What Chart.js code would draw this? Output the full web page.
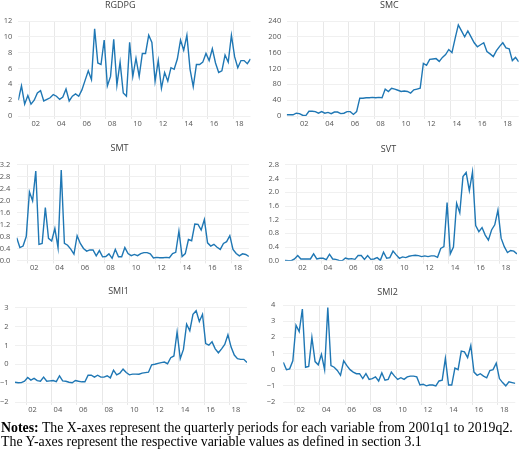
<!DOCTYPE html>
<html><head><meta charset="utf-8">
<script src="https://cdn.jsdelivr.net/npm/chart.js@4"></script>
<style>
html,body{margin:0;padding:0;width:520px;height:464px;overflow:hidden;background:#fff;}
body{position:relative}
canvas{position:absolute}
#notes{position:absolute;left:1px;top:421px;font-family:"Liberation Serif","Times New Roman",serif;font-size:13.85px;line-height:14px;color:#000;white-space:nowrap}
</style></head><body>
<canvas id="c1"></canvas><canvas id="c2"></canvas>
<canvas id="c3"></canvas><canvas id="c4"></canvas>
<canvas id="c5"></canvas><canvas id="c6"></canvas>
<div id="notes"><b>Notes:</b> The X-axes represent the quarterly periods for each variable from 2001q1 to 2019q2.<br>The Y-axes represent the respective variable values as defined in section 3.1</div>
<script>
const quarters = [
 '2001q1','2001q2','2001q3','2001q4','2002q1','2002q2','2002q3','2002q4',
 '2003q1','2003q2','2003q3','2003q4','2004q1','2004q2','2004q3','2004q4',
 '2005q1','2005q2','2005q3','2005q4','2006q1','2006q2','2006q3','2006q4',
 '2007q1','2007q2','2007q3','2007q4','2008q1','2008q2','2008q3','2008q4',
 '2009q1','2009q2','2009q3','2009q4','2010q1','2010q2','2010q3','2010q4',
 '2011q1','2011q2','2011q3','2011q4','2012q1','2012q2','2012q3','2012q4',
 '2013q1','2013q2','2013q3','2013q4','2014q1','2014q2','2014q3','2014q4',
 '2015q1','2015q2','2015q3','2015q4','2016q1','2016q2','2016q3','2016q4',
 '2017q1','2017q2','2017q3','2017q4','2018q1','2018q2','2018q3','2018q4',
 '2019q1','2019q2'];
const yearTicks = ['02','04','06','08','10','12','14','16','18'];

const rgdpg = [2.0,3.8,1.5,2.6,1.5,2.0,2.9,3.2,1.9,2.1,2.3,2.7,2.5,2.1,2.4,3.4,1.9,2.5,2.8,2.5,
 3.3,4.5,5.7,4.6,11.0,6.7,6.5,9.6,3.8,5.0,9.7,3.9,6.8,2.9,2.5,9.3,5.0,7.3,5.0,7.9,
 7.9,10.2,9.3,4.4,7.0,3.5,5.5,4.4,6.1,5.9,7.2,9.6,8.3,10.2,5.9,3.7,6.5,6.5,6.8,7.9,
 7.0,8.5,6.7,5.5,5.7,7.7,6.8,10.2,7.5,6.1,7.0,7.0,6.6,7.2];
const smc = [3,3,3,7,6,2,1,12,12,11,7,11,7,9,6,10,10,6,7,11,
 11,4,11,45,45,46,46,47,46,47,46,68,62,70,68,65,62,63,62,58,
 66,68,70,133,128,143,144,145,138,148,155,168,160,196,230,215,200,215,200,185,
 175,180,185,163,157,150,165,176,185,172,170,140,148,137];
const smt = [0.76,0.43,0.48,0.8,2.3,2.0,3.0,0.54,0.57,1.77,0.74,0.65,1.07,0.42,3.03,0.57,0.51,0.38,0.21,0.83,
 0.57,0.40,0.31,0.35,0.35,0.15,0.33,0.12,0.13,0.22,0.07,0.37,0.12,0.12,0.43,0.23,0.16,0.2,0.16,0.23,
 0.26,0.26,0.22,0.08,0.1,0.09,0.09,0.1,0.09,0.23,0.27,0.98,0.13,0.23,0.7,0.66,1.22,1.21,1.02,1.37,
 0.59,0.48,0.54,0.44,0.37,0.57,0.63,0.83,0.37,0.23,0.15,0.22,0.2,0.13];
const svt = [0.01,0,0,0.05,0.15,0.05,0.05,0.05,0.05,0.2,0.05,0.07,0.07,0.03,0.19,0.05,0.04,0.01,0,0.08,
 0.05,0.06,0.04,0.15,0.15,0.04,0.15,0.04,0.05,0.09,0.01,0.25,0.07,0.09,0.28,0.17,0.07,0.11,0.09,0.13,
 0.15,0.16,0.15,0.12,0.14,0.12,0.14,0.14,0.1,0.36,0.41,1.7,0.2,0.4,1.68,1.4,2.46,2.58,2.05,2.6,
 1.03,0.85,0.97,0.75,0.6,0.9,1.05,1.48,0.66,0.41,0.24,0.3,0.28,0.2];
const smi1 = [-0.95,-0.98,-0.97,-0.9,-0.7,-0.84,-0.75,-0.87,-0.9,-0.68,-0.9,-0.88,-0.86,-0.92,-0.61,-0.88,-0.9,-0.95,-0.98,-0.86,
 -0.9,-0.93,-0.93,-0.58,-0.58,-0.68,-0.58,-0.68,-0.68,-0.61,-0.72,-0.31,-0.56,-0.47,-0.26,-0.44,-0.56,-0.52,-0.52,-0.53,
 -0.47,-0.44,-0.42,-0.03,0.0,0.05,0.09,0.12,0.03,0.35,0.44,1.71,0.3,0.79,2.13,1.78,2.65,2.84,2.27,2.65,
 1.1,1.01,1.19,0.82,0.61,0.82,1.05,1.57,0.91,0.49,0.3,0.26,0.26,0.09];
const smi2 = [0.45,0.0,0.05,0.55,2.75,2.35,3.75,0.15,0.2,2.0,0.5,0.3,0.95,0.0,3.85,0.25,0.15,-0.05,-0.35,0.55,
 0.25,0.0,-0.15,-0.25,-0.25,-0.55,-0.25,-0.6,-0.55,-0.45,-0.7,-0.2,-0.65,-0.6,-0.15,-0.4,-0.6,-0.5,-0.6,-0.45,
 -0.4,-0.4,-0.45,-0.95,-0.9,-1.0,-0.95,-0.95,-1.0,-0.7,-0.65,0.7,-0.95,-0.95,0.1,0.0,1.15,1.1,0.75,1.5,
 -0.15,-0.35,-0.25,-0.4,-0.5,-0.05,0.0,0.4,-0.55,-0.8,-1.0,-0.75,-0.8,-0.85];

const rgdpgTicks = [0,2,4,6,8,10,12];
const smcTicks = [0,40,80,120,160,200,240];
const smtTicks = [0.0,0.4,0.8,1.2,1.6,2.0,2.4,2.8,3.2];
const svtTicks = [0.0,0.4,0.8,1.2,1.6,2.0,2.4,2.8];
const smi1Ticks = [-2,-1,0,1,2,3];
const smi2Ticks = [-2,-1,0,1,2,3,4];

// grid lines at year boundaries, labels centred on each labelled year
const gridPos = yearTicks.map(y => quarters.indexOf('20' + y + 'q1') - 0.5);

const panels = [
 {id:'c1', title:'RGDPG', data:rgdpg, yt:rgdpgTicks, dec:0, cl:-10, ct:0,   w:270, h:145, L:18.3, R:250.5, T:21,    B:116,   ty:5.5,   yp:6},
 {id:'c2', title:'SMC',   data:smc,   yt:smcTicks,   dec:0, cl:260, ct:0,   w:260, h:145, L:286.7,R:518.7, T:21,    B:116,   ty:5.5,   yp:5.5},
 {id:'c3', title:'SMT',   data:smt,   yt:smtTicks,   dec:1, cl:-10, ct:135, w:270, h:150, L:16.7, R:248.9, T:165,   B:260.4, ty:148.3, yp:6.5},
 {id:'c4', title:'SVT',   data:svt,   yt:svtTicks,   dec:1, cl:260, ct:135, w:260, h:150, L:285,  R:517,   T:165,   B:260.7, ty:149,   yp:6},
 {id:'c5', title:'SMI1',  data:smi1,  yt:smi1Ticks,  dec:0, cl:-10, ct:270, w:270, h:150, L:15,   R:247,   T:307.7, B:402,   ty:291.7, yp:6.5},
 {id:'c6', title:'SMI2',  data:smi2,  yt:smi2Ticks,  dec:0, cl:260, ct:270, w:260, h:150, L:283.3,R:515.3, T:305,   B:402,   ty:292.5, yp:8}
];

const tickFont = {family:'"Open Sans", sans-serif', size:7.5};
const titleSize = 9, titleLH = titleSize * 1.2;
const xAxisH = 14;

panels.forEach(p => {
  const cv = document.getElementById(p.id);
  cv.width = p.w; cv.height = p.h;
  cv.style.left = p.cl + 'px'; cv.style.top = p.ct + 'px';
  const quarterPx = (p.R - p.L) / (quarters.length - 1);
  new Chart(cv, {
    type: 'line',
    data: {
      labels: quarters,
      datasets: [{
        data: p.data.map((v, i) => ({x: i, y: v})),
        borderColor: '#1f77b4', borderWidth: 1.4,
        pointRadius: 0, tension: 0, fill: false
      }]
    },
    options: {
      responsive: false, animation: false, devicePixelRatio: 1,
      layout: {padding: {left: 0, top: 0, right: p.cl + p.w - p.R, bottom: (p.ct + p.h) - p.B - xAxisH}},
      plugins: {
        legend: {display: false}, tooltip: {enabled: false},
        title: {display: true, text: p.title, color: '#404040',
          font: {family: '"Open Sans", sans-serif', size: titleSize, weight: 'normal'},
          padding: {top: p.ty - titleLH / 2 - p.ct, bottom: p.T - (p.ty + titleLH / 2)}}
      },
      scales: {
        x: {
          type: 'linear', min: 0, max: quarters.length - 1,
          afterBuildTicks: a => { a.ticks = gridPos.map(v => ({value: v})); },
          afterFit: a => { a.height = xAxisH; },
          grid: {color: '#e8e8e8', lineWidth: 1, drawTicks: true, tickLength: 3, tickColor: '#e8e8e8'},
          border: {display: false},
          ticks: {font: tickFont, color: '#555', padding: 0, maxRotation: 0, autoSkip: false,
            labelOffset: 2 * quarterPx,
            callback: (v, i) => yearTicks[i]}
        },
        y: {
          type: 'linear', min: p.yt[0], max: p.yt[p.yt.length - 1],
          afterBuildTicks: a => { a.ticks = p.yt.map(v => ({value: v})); },
          afterFit: a => { a.width = p.L - p.cl; },
          grid: {color: '#f0f0f0', lineWidth: 1, drawTicks: false},
          border: {display: false},
          ticks: {font: tickFont, color: '#555', padding: p.yp, autoSkip: false,
            callback: v => (v < 0 ? '\u2212' : '') + Math.abs(v).toFixed(p.dec)}
        }
      }
    }
  });
});
</script>
</body></html>
